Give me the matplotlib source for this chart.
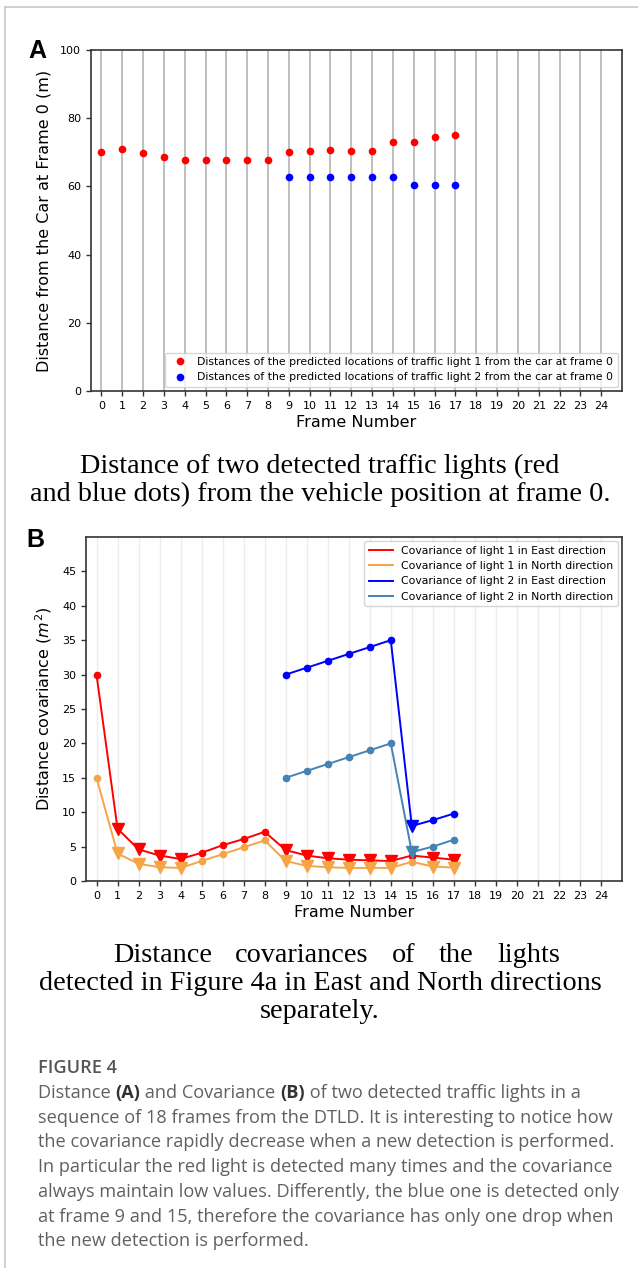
import numpy as np
import matplotlib
matplotlib.use("Agg")
import matplotlib.pyplot as plt
from matplotlib.lines import Line2D

# --> Data
frames = list(range(25))

light1_frames = list(range(18))
light1_distance = [70.0, 71.0, 69.7, 68.6, 67.6, 67.6, 67.6, 67.6, 67.6,
                   70.0, 70.3, 70.7, 70.5, 70.3, 72.9, 72.9, 74.5, 75.1]
light2_frames = list(range(9, 18))
light2_distance = [62.9, 62.9, 62.9, 62.9, 62.9, 62.9, 60.3, 60.3, 60.3]

light1_east = [30.0, 7.6, 4.6, 3.7, 3.2, 4.1, 5.2, 6.1, 7.15,
               4.5, 3.7, 3.3, 3.1, 3.0, 2.9, 3.7, 3.4, 3.1]
light1_north = [15.0, 4.0, 2.5, 2.0, 1.9, 2.9, 3.9, 4.9, 5.9,
                2.9, 2.2, 2.0, 1.9, 1.9, 1.9, 2.8, 2.1, 1.95]
light2_east = [30.0, 31.0, 32.0, 33.0, 34.0, 35.0, 8.0, 8.85, 9.8]
light2_north = [15.0, 16.0, 17.0, 18.0, 19.0, 20.0, 4.2, 5.0, 6.0]

# frames where a new detection updates the estimate (drawn as triangles)
light1_detections = [1, 2, 3, 4, 9, 10, 11, 12, 13, 14, 16, 17]
light2_detections = [15]

legend_a = ["Distances of the predicted locations of traffic light 1 from the car at frame 0",
            "Distances of the predicted locations of traffic light 2 from the car at frame 0"]
legend_b = ["Covariance of light 1 in East direction",
            "Covariance of light 1 in North direction",
            "Covariance of light 2 in East direction",
            "Covariance of light 2 in North direction"]

caption_a = ["Distance of two detected traffic lights (red",
             "and blue dots) from the vehicle position at frame 0."]
caption_b = ["Distance covariances of the lights",
             "detected in Figure 4a in East and North directions",
             "separately."]
figure_title = "FIGURE 4"
figure_text = [
    [("Distance ", False), ("(A)", True), (" and Covariance ", False), ("(B)", True),
     (" of two detected traffic lights in a", False)],
    [("sequence of 18 frames from the DTLD. It is interesting to notice how", False)],
    [("the covariance rapidly decrease when a new detection is performed.", False)],
    [("In particular the red light is detected many times and the covariance", False)],
    [("always maintain low values. Differently, the blue one is detected only", False)],
    [("at frame 9 and 15, therefore the covariance has only one drop when", False)],
    [("the new detection is performed.", False)],
]

W, H = 638, 1268
fig = plt.figure(figsize=(W / 100, H / 100), dpi=100)


def fx(px):
    return px / W


def fy(py):
    return 1 - py / H


# --> Page border
fig.add_artist(Line2D([fx(5), 1], [fy(7), fy(7)], color="#c8c8c8", lw=1.2))
fig.add_artist(Line2D([fx(5), fx(5)], [fy(7), 0], color="#c8c8c8", lw=1.2))

tick_fs = 8
label_fs = 11.5


def style_axes(ax):
    ax.set_xlim(-0.5, 25)
    ax.set_xticks(frames)
    ax.tick_params(labelsize=tick_fs, length=3.5, width=1.0, color="#333333")
    for s in ax.spines.values():
        s.set_color("#333333")
        s.set_linewidth(1.2)
    ax.set_xlabel("Frame Number", fontsize=label_fs, labelpad=3)


# --> Panel A
ax_a = fig.add_axes([fx(91), fy(391), fx(622) - fx(91), fy(50) - fy(391)])
ax_a.plot(light1_frames, light1_distance, "o", color="red", markersize=4.5, label=legend_a[0])
ax_a.plot(light2_frames, light2_distance, "o", color="blue", markersize=4.5, label=legend_a[1])
style_axes(ax_a)
ax_a.set_ylim(0, 100)
ax_a.set_yticks(range(0, 101, 20))
ax_a.grid(axis="x", color="#b4b4b4", lw=1.2)
ax_a.set_axisbelow(True)
ax_a.set_ylabel("Distance from the Car at Frame 0 (m)", fontsize=label_fs, labelpad=6)
ax_a.legend(loc="lower right", fontsize=7.8, handletextpad=0.6, borderaxespad=0.4,
            fancybox=True, framealpha=0.8)

# --> Panel B
ax_b = fig.add_axes([fx(86), fy(881), fx(622) - fx(86), fy(537) - fy(881)])
series = [
    (light1_frames, light1_east, light1_detections, "red"),
    (light1_frames, light1_north, light1_detections, "#f5a446"),
    (light2_frames, light2_east, light2_detections, "blue"),
    (light2_frames, light2_north, light2_detections, "#4682b4"),
]
for (xs, ys, det, col), lab in zip(series, legend_b):
    ax_b.plot(xs, ys, "-", color=col, lw=1.4, label=lab)
    circ = [(x, y) for x, y in zip(xs, ys) if x not in det]
    tri = [(x, y) for x, y in zip(xs, ys) if x in det]
    if circ:
        ax_b.plot(*zip(*circ), "o", color=col, markersize=4.5)
    if tri:
        ax_b.plot(*zip(*tri), "v", color=col, markersize=8)
style_axes(ax_b)
ax_b.set_ylim(0, 50)
ax_b.set_yticks(range(0, 50, 5))
ax_b.grid(axis="x", color="#ececec", lw=1.0)
ax_b.set_axisbelow(True)
ax_b.set_ylabel("Distance covariance $(m^2)$", fontsize=label_fs, labelpad=6)
ax_b.legend(loc="upper right", fontsize=7.8, handlelength=2.2, borderaxespad=0.4,
            fancybox=True, framealpha=0.8)

# --> Panel letters
fig.text(fx(37), fy(51), "A", fontsize=18, fontweight="bold", family="Liberation Sans",
         ha="center", va="center")
fig.text(fx(35), fy(540), "B", fontsize=18, fontweight="bold", family="Liberation Sans",
         ha="center", va="center")

# --> Sub-captions (serif)
serif = "Liberation Serif"
cap_fs = 20.3
fig.text(fx(320), fy(466), caption_a[0], fontsize=cap_fs, family=serif, ha="center", va="center")
fig.text(fx(320), fy(494), caption_a[1], fontsize=cap_fs, family=serif, ha="center", va="center")

renderer = fig.canvas.get_renderer()

# first line of caption B is justified between two edges
words = caption_b[0].split()
left_px, right_px = 113, 560
widths = []
for w in words:
    t = fig.text(0, 0, w, fontsize=cap_fs, family=serif)
    widths.append(t.get_window_extent(renderer).width)
    t.remove()
gap = (right_px - left_px - sum(widths)) / (len(words) - 1)
xpos = left_px
for w, wd in zip(words, widths):
    fig.text(fx(xpos), fy(955), w, fontsize=cap_fs, family=serif, ha="left", va="center")
    xpos += wd + gap
fig.text(fx(320), fy(983), caption_b[1], fontsize=cap_fs, family=serif, ha="center", va="center")
fig.text(fx(320), fy(1012), caption_b[2], fontsize=cap_fs, family=serif, ha="center", va="center")

# --> Figure caption (sans)
sans = "Open Sans"
body_fs = 13.1
fig.text(fx(38), fy(1068), figure_title, fontsize=body_fs, family=sans, fontweight="semibold",
         color="#555555", ha="left", va="center")
line_y = 1093
for parts in figure_text:
    xpos = 38
    for txt, bold in parts:
        t = fig.text(fx(xpos), fy(line_y), txt, fontsize=body_fs, family=sans,
                     fontweight="bold" if bold else "normal",
                     color="#333333" if bold else "#606060", ha="left", va="center")
        xpos += t.get_window_extent(renderer).width
    line_y += 24.7

fig.savefig("out.png", dpi=100)
